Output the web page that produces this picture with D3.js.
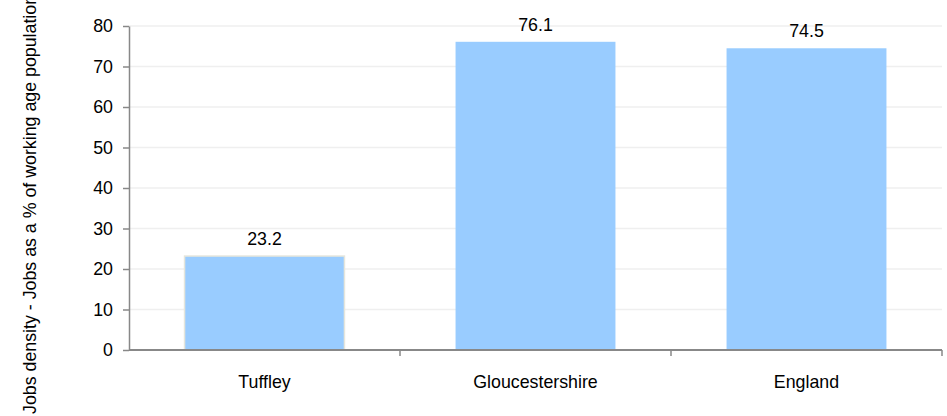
<!DOCTYPE html>
<html><head><meta charset="utf-8">
<script src="https://cdn.jsdelivr.net/npm/d3@7"></script>
<style>body{margin:0;background:#fff;} text{font-family:"Liberation Sans",Arial,sans-serif;}</style>
</head><body>
<svg id="c" width="947" height="416"></svg>
<script>
const categories = ["Tuffley", "Gloucestershire", "England"];
const values = [23.2, 76.1, 74.5];
const yTicks = [0, 10, 20, 30, 40, 50, 60, 70, 80];
const yTitle = "Jobs density - Jobs as a % of working age population";

(function () {
const svg = d3.select("#c");
const FS = 17.8;
const mLeft = 129, mRight = 942, mTop = 26, mBottom = 350;
const x = d3.scaleBand().domain(categories).range([mLeft, mRight]).paddingInner(0.41).paddingOuter(0.205);
const xb = d3.scaleBand().domain(categories).range([mLeft, mRight]);
const y = d3.scaleLinear().domain([0, 80]).range([mBottom, mTop]);

// gridlines
svg.append("g").selectAll("line").data(yTicks.filter(d => d > 0)).join("line")
  .attr("x1", mLeft).attr("x2", mRight).attr("y1", d => y(d)).attr("y2", d => y(d))
  .attr("stroke", "#efefef").attr("stroke-width", 1.5);

// bars
svg.append("g").selectAll("rect").data(values).join("rect")
  .attr("x", (d, i) => x(categories[i])).attr("width", x.bandwidth())
  .attr("y", d => y(d)).attr("height", d => mBottom - y(d))
  .attr("fill", "#99ccff")
  .attr("stroke", (d, i) => i === 0 ? "#e6e6dc" : "none").attr("stroke-width", 1.5);

// value labels
svg.append("g").selectAll("text").data(values).join("text")
  .attr("x", (d, i) => x(categories[i]) + x.bandwidth() / 2)
  .attr("y", d => y(d) - 11)
  .attr("text-anchor", "middle").attr("font-size", FS).attr("fill", "#000")
  .text(d => d.toFixed(1));

// y axis
const ya = svg.append("g").attr("transform", `translate(${mLeft},0)`)
  .call(d3.axisLeft(y).tickValues(yTicks).tickSize(6).tickSizeOuter(0).tickPadding(10));
ya.select(".domain").attr("stroke", "#888").attr("stroke-width", 1.5);
ya.selectAll(".tick line").attr("stroke", "#888").attr("stroke-width", 1.5);
ya.selectAll(".tick text").attr("font-size", FS).attr("fill", "#000").attr("font-family", "Liberation Sans, Arial, sans-serif");

// x axis
const xa = svg.append("g").attr("transform", `translate(0,${mBottom})`);
xa.append("line").attr("x1", mLeft).attr("x2", mRight).attr("stroke", "#888").attr("stroke-width", 2);
const bounds = categories.map(c => xb(c)).concat([mRight]);
xa.selectAll("line.t").data(bounds.slice(1)).join("line").attr("class", "t")
  .attr("x1", d => d).attr("x2", d => d).attr("y1", 0).attr("y2", 6)
  .attr("stroke", "#888").attr("stroke-width", 1.5);
xa.selectAll("text").data(categories).join("text")
  .attr("x", d => xb(d) + xb.bandwidth() / 2).attr("y", 38)
  .attr("text-anchor", "middle").attr("font-size", FS).attr("fill", "#000")
  .text(d => d);

// y title
svg.append("text").attr("transform", "translate(36,414) rotate(-90)")
  .attr("text-anchor", "start").attr("font-size", FS).attr("fill", "#000")
  .text(yTitle);
})();
</script>
</body></html>
